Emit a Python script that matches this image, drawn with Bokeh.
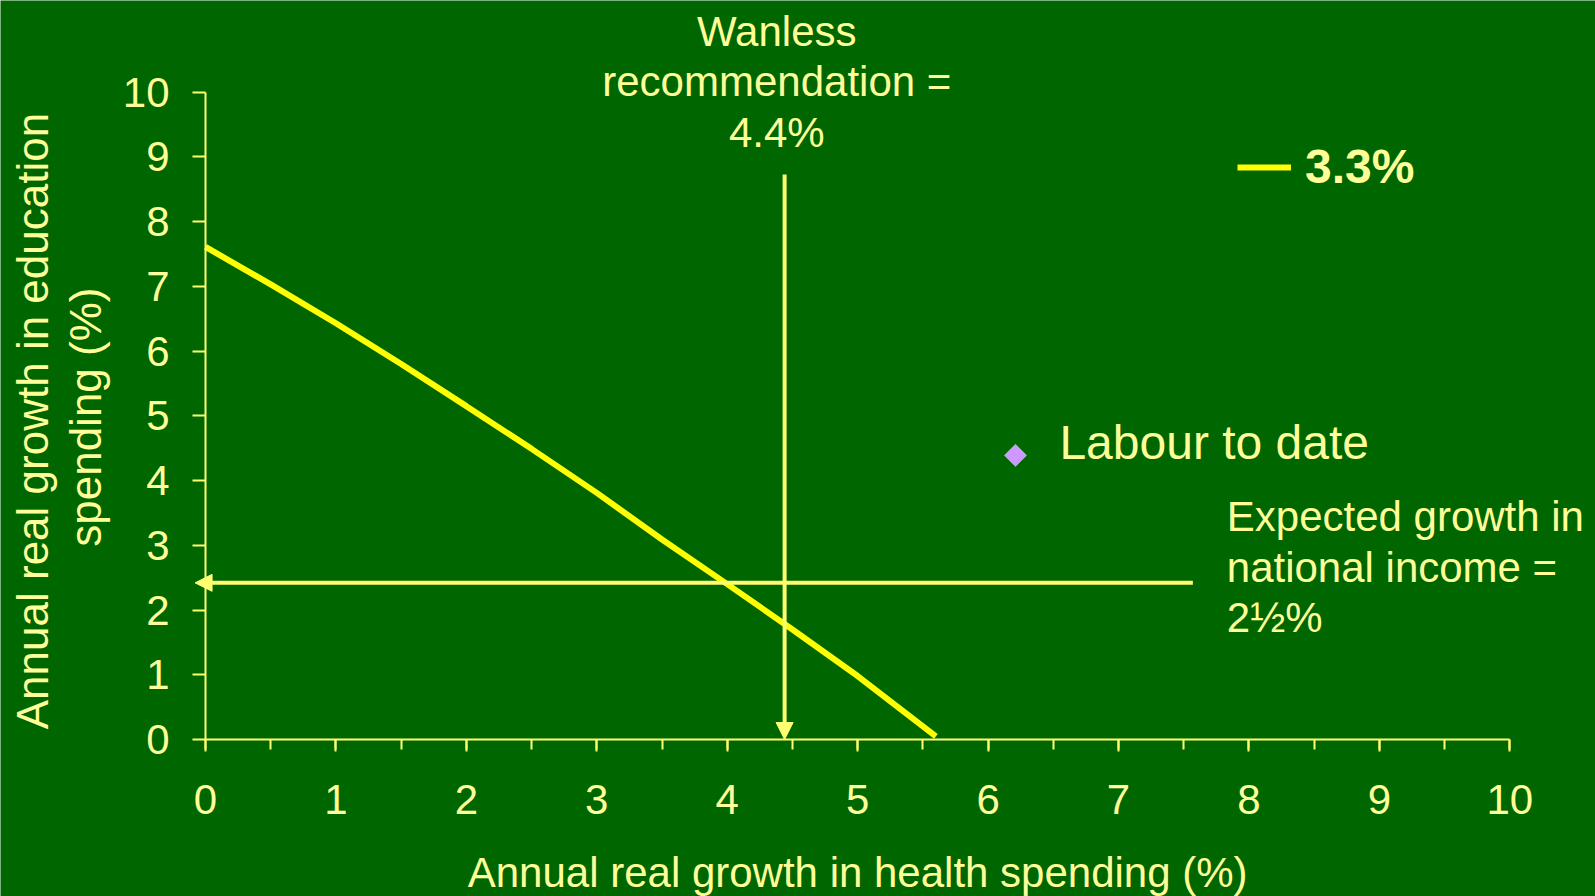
from bokeh.plotting import figure
from bokeh.models import (Range1d, SingleIntervalTicker, Label, Arrow, NormalHead,
                          Legend, LegendItem, ColumnDataSource)
from bokeh.embed import file_html
from bokeh.resources import INLINE

# ---- data ----
health_growth = [0.0, 0.5, 1.0, 1.5, 2.0, 2.5, 3.0, 3.5, 4.0, 4.5, 5.0, 5.6]
education_growth = [7.61, 7.03, 6.43, 5.80, 5.15, 4.49, 3.81, 3.09, 2.40, 1.70, 0.98, 0.05]
curve_label = "3.3%"

labour_health = [6.21]
labour_education = [4.39]
labour_label = "Labour to date"

wanless_health = 4.44
wanless_top = 8.73
wanless_lines = ["Wanless", "recommendation =", "4.4%"]

income_education = 2.42
income_right = 7.57
income_left = -0.08
income_lines = ["Expected growth in", "national income =", "2\u00bd%"]

x_title = "Annual real growth in health spending (%)"
y_title_lines = ["Annual real growth in education", "spending (%)"]

axis_min, axis_max = 0, 10

# ---- style ----
BG = "#006600"
TXT = "#FFFF99"
LINE = "#FFFF70"
CURVE = "#FFFF00"
FONT = "Liberation Sans"

W, H = 1595, 896
X0, XU = 205.0, 130.43   # pixel of x=0, pixels per unit
Y0, YU = 739.0, 64.73    # pixel of y=0, pixels per unit

p = figure(width=W, height=H, output_backend="svg", toolbar_location=None,
           x_range=Range1d(-X0 / XU, (W - X0) / XU),
           y_range=Range1d((Y0 - H) / YU, Y0 / YU),
           min_border_left=0, min_border_right=0, min_border_top=0, min_border_bottom=0)
p.background_fill_color = BG
p.border_fill_color = BG
p.outline_line_color = None
p.grid.visible = False

p.xaxis.ticker = SingleIntervalTicker(interval=1, num_minor_ticks=2)
p.yaxis.ticker = SingleIntervalTicker(interval=1, num_minor_ticks=0)
for ax in (p.xaxis, p.yaxis):
    ax.fixed_location = 0
    ax.bounds = (axis_min, axis_max)
    ax.axis_line_color = LINE
    ax.axis_line_width = 2
    ax.major_tick_line_color = LINE
    ax.major_tick_line_width = 2
    ax.minor_tick_line_color = LINE
    ax.minor_tick_line_width = 2
    ax.major_tick_in = 0
    ax.minor_tick_in = 0
    ax.major_label_text_font = FONT
    ax.major_label_text_font_size = "42px"
    ax.major_label_text_color = TXT
p.xaxis.major_tick_out = 12
p.xaxis.minor_tick_out = 10
p.xaxis.major_label_standoff = 33
p.yaxis.major_tick_out = 13
p.yaxis.minor_tick_out = 0
p.yaxis.major_label_standoff = 23

# curve
src = ColumnDataSource(dict(x=health_growth, y=education_growth))
curve = p.line("x", "y", source=src, line_color=CURVE, line_width=6)

# Labour point
p.scatter(labour_health, labour_education, marker="square", angle=0.785398,
          size=15.5, fill_color="#CC99FF", line_color="#CC99FF")

# arrows
p.add_layout(Arrow(end=NormalHead(size=17, fill_color=LINE, line_color=LINE),
                   x_start=wanless_health, y_start=wanless_top,
                   x_end=wanless_health, y_end=0,
                   line_color=LINE, line_width=4))
p.add_layout(Arrow(end=NormalHead(size=17, fill_color=LINE, line_color=LINE),
                   x_start=income_right, y_start=income_education,
                   x_end=income_left, y_end=income_education,
                   line_color=LINE, line_width=4))

def lab(x, y, text, size="42px", align="left", angle=0, style="normal"):
    p.add_layout(Label(x=x, y=y, text=text, text_font=FONT, text_font_size=size,
                       text_color=TXT, text_align=align, text_baseline="middle",
                       angle=angle, text_font_style=style))

# Wanless text
for yy, t in zip([10.945, 10.173, 9.374], wanless_lines):
    lab(4.38, yy, t, align="center")

# Expected growth text
for yy, t in zip([3.450, 2.663, 1.879], income_lines):
    lab(7.83, yy, t)

# Labour
lab(6.547, 4.593, labour_label, size="48px")

# axis titles
lab(5.0, -2.047, x_title, align="center")
lab(-1.330, 4.92, y_title_lines[0], size="44px", align="center", angle=1.5708)
lab(-0.922, 4.98, y_title_lines[1], size="44px", align="center", angle=1.5708)

# legend
legend = Legend(items=[LegendItem(label=curve_label, renderers=[curve])],
                location=(1237, 702), padding=0, margin=0, spacing=0,
                glyph_width=54, glyph_height=20, label_standoff=14,
                label_text_font=FONT, label_text_font_size="48px",
                label_text_font_style="bold", label_text_color=TXT,
                border_line_color=None, background_fill_alpha=0)
p.add_layout(legend)

open("out.html", "w").write(file_html(p, INLINE))
